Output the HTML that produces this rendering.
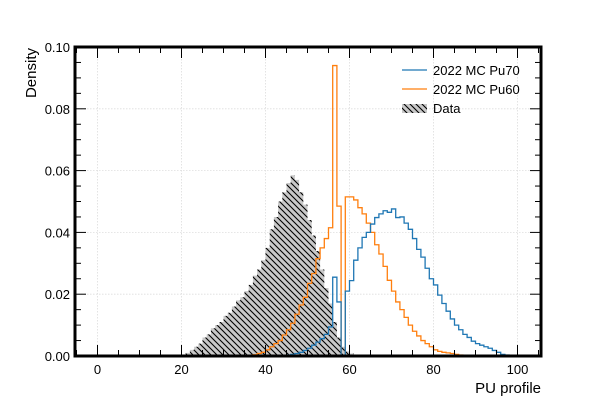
<!DOCTYPE html>
<html><head><meta charset="utf-8"><style>
body{margin:0;background:#fff;}
svg{display:block;font-family:"Liberation Sans",sans-serif;}
</style></head><body>
<svg id="chart" width="600" height="400">
<defs>
<pattern id="hatch" patternUnits="userSpaceOnUse" width="6" height="6">
<rect width="6" height="6" fill="#c8c8c8"/>
<path d="M-1,-1 L7,7 M-4,2 L2,8 M4,-2 L8,2" stroke="#000" stroke-width="1.1"/>
</pattern>
</defs>
<g id="grid"></g>
<g id="marks"></g>
<g id="axes"></g>
</svg>
<script>
const dataStart = 20;
const dataVals = [0.0005,0.001,0.002,0.003,0.004,0.006,0.007,0.009,0.010,0.011,0.013,0.014,0.016,0.018,0.019,0.021,0.023,0.026,0.028,0.031,0.035,0.041,0.045,0.050,0.053,0.056,0.0585,0.057,0.053,0.049,0.044,0.039,0.034,0.028,0.022,0.017,0.011,0.006,0.003,0.0015,0.0008,0.0003];
const pu60Start = 37;
const pu60Vals = [0.0004,0.0008,0.0012,0.002,0.003,0.004,0.005,0.0068,0.0085,0.0106,0.0135,0.0165,0.019,0.0235,0.0267,0.0315,0.035,0.038,0.0415,0.094,0.0485,0,0.0515,0.0515,0.0505,0.048,0.046,0.043,0.040,0.036,0.033,0.029,0.0245,0.021,0.0175,0.015,0.0125,0.010,0.008,0.0065,0.005,0.004,0.003,0.002,0.0015,0.0012,0.001,0.0008,0.0005,0.0003];
const pu70Start = 44;
const pu70Vals = [0.0002,0.0003,0.0005,0.0008,0.0012,0.0018,0.0025,0.0035,0.0045,0.0056,0.007,0.0094,0.0255,0.0175,0,0.021,0.0244,0.031,0.035,0.0384,0.040,0.0427,0.0448,0.046,0.047,0.0465,0.0476,0.0448,0.045,0.043,0.041,0.038,0.0345,0.032,0.0284,0.025,0.023,0.0197,0.017,0.0145,0.012,0.010,0.0085,0.007,0.006,0.0048,0.004,0.0035,0.003,0.0025,0.0018,0.0012,0.0005,0.0003,0.0002];
const xTicks = [0,20,40,60,80,100];
const yTicks = [0,0.02,0.04,0.06,0.08,0.10];
const yTickLabels = ["0.00","0.02","0.04","0.06","0.08","0.10"];

const L=75,R=541,T=47,B=356;
const X=v=>97.5+4.2*v;
const Y=v=>B-3090*v;
const NS="http://www.w3.org/2000/svg";
function mk(tag,attrs,parent){const e=document.createElementNS(NS,tag);for(const k in attrs)e.setAttribute(k,attrs[k]);parent.appendChild(e);return e;}
const grid=document.getElementById('grid'),marks=document.getElementById('marks'),axes=document.getElementById('axes');
xTicks.forEach(t=>{const g=mk('line',{x1:X(t),x2:X(t),y1:T,y2:B,stroke:'#ddd','stroke-dasharray':'1.5,1.5','stroke-width':0.8},grid);

});
yTicks.forEach(t=>{const g=mk('line',{x1:L,x2:R,y1:Y(t),y2:Y(t),stroke:'#ddd','stroke-dasharray':'1.5,1.5','stroke-width':0.8},grid);

});

function stepPath(start,vals,close){
  let d=`M${X(start)},${Y(0)}`;
  vals.forEach((v,i)=>{d+=` L${X(start+i)},${Y(v)} L${X(start+i+1)},${Y(v)}`;});
  d+=` L${X(start+vals.length)},${Y(0)}`;
  if(close)d+=' Z';
  return d;
}
const dp=mk('path',{d:stepPath(dataStart,dataVals,true),fill:'url(#hatch)',stroke:'none'},marks);


const p60=mk('path',{d:stepPath(pu60Start,pu60Vals,false),fill:'none',stroke:'#ff7f0e','stroke-width':1.3},marks);


const p70=mk('path',{d:stepPath(pu70Start,pu70Vals,false),fill:'none',stroke:'#1f77b4','stroke-width':1.3},marks);



for(let v=-5;v<=105;v+=5){const x=X(v);if(x<L+1||x>R-1)continue;const len=v%20===0?11:6;
 const a=mk('line',{x1:x,x2:x,y1:B,y2:B-len,stroke:'#000','stroke-width':1},axes);
 
 
 const b=mk('line',{x1:x,x2:x,y1:T,y2:T+len,stroke:'#000','stroke-width':1},axes);
 
 }
for(let i=0;i<=20;i++){const v=i*0.005;const y=Y(v);const len=i%4===0?11:6;
 const a=mk('line',{x1:L,x2:L+len,y1:y,y2:y,stroke:'#000','stroke-width':1},axes);
 
 
 const b=mk('line',{x1:R,x2:R-len,y1:y,y2:y,stroke:'#000','stroke-width':1},axes);
 
 }
xTicks.forEach(t=>{const e=mk('text',{x:X(t),y:B+18,'text-anchor':'middle','font-size':13},axes);e.textContent=t;
 
 });
yTicks.forEach((t,i)=>{const e=mk('text',{x:L-5,y:Y(t)+5,'text-anchor':'end','font-size':13},axes);e.textContent=yTickLabels[i];
 
 });
const fr=mk('rect',{x:L,y:T,width:R-L,height:B-T,fill:'none',stroke:'#000','stroke-width':3},axes);


const xl=mk('text',{x:R,y:393,'text-anchor':'end','font-size':15},axes);xl.textContent='PU profile';


const yl=mk('text',{transform:'translate(36,48) rotate(-90)','text-anchor':'end','font-size':15},axes);yl.textContent='Density';



const lg=mk('g',{},axes);


const e1=mk('line',{x1:402,x2:427,y1:70,y2:70,stroke:'#1f77b4','stroke-width':1.3},lg);


const t1=mk('text',{x:433,y:75,'font-size':13},lg);t1.textContent='2022 MC Pu70';


const e2=mk('line',{x1:402,x2:427,y1:89,y2:89,stroke:'#ff7f0e','stroke-width':1.3},lg);


const t2=mk('text',{x:433,y:94,'font-size':13},lg);t2.textContent='2022 MC Pu60';


const e3=mk('rect',{x:402,y:104,width:25,height:9,fill:'url(#hatch)'},lg);


const t3=mk('text',{x:433,y:113,'font-size':13},lg);t3.textContent='Data';


</script>
</body></html>
